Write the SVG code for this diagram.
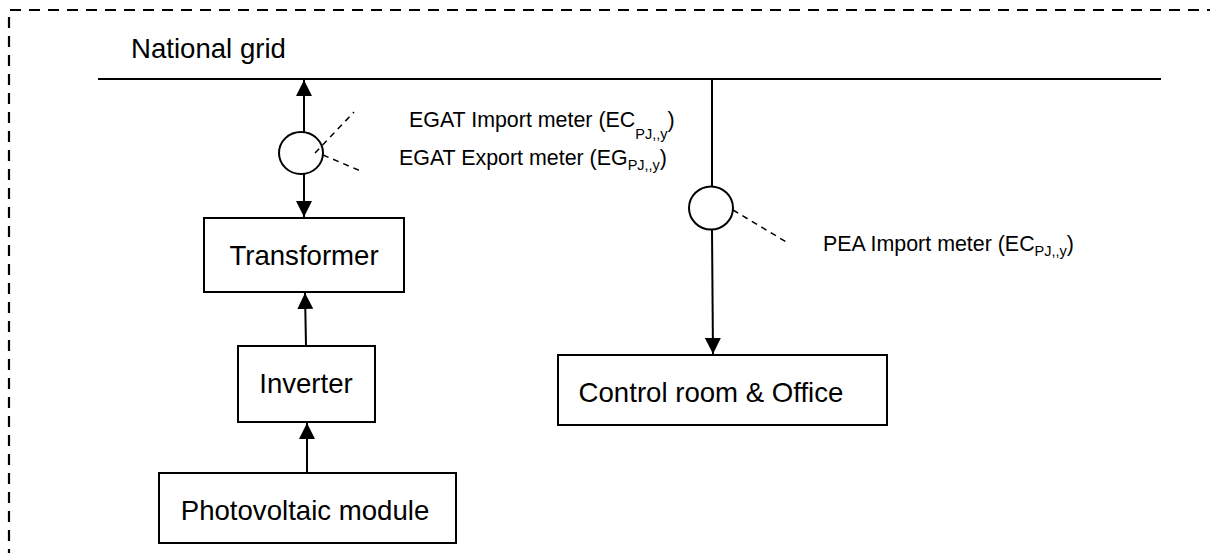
<svg xmlns="http://www.w3.org/2000/svg" width="1210" height="553" viewBox="0 0 1210 553">
<style>
.box{fill:#fff;stroke:#000;stroke-width:2}
.lbl{font-family:"Liberation Sans",Arial,sans-serif;font-size:27.6px;fill:#000}
.mlbl{font-family:"Liberation Sans",Arial,sans-serif;font-size:21.4px;fill:#000}
.sub{font-size:14.5px}
.wire{stroke:#000;stroke-width:2;fill:none}
.dash{stroke:#000;stroke-width:1.5;stroke-dasharray:6 5;fill:none}
.meter{fill:#fff;stroke:#000;stroke-width:2}
</style>
<defs>
<marker id="ah" markerUnits="userSpaceOnUse" viewBox="0 0 16 16" refX="16" refY="8" markerWidth="16" markerHeight="16" orient="auto">
<path d="M0,0 L16,8 L0,16 z" fill="#000"/>
</marker>
</defs>
<rect width="1210" height="553" fill="#fff"/>
<path d="M9,560 L9,10 L1215,10" fill="none" stroke="#000" stroke-width="2.2" stroke-dasharray="11 8"/>
<g id="grid">
<line x1="98" y1="79" x2="1161" y2="79" stroke="#000" stroke-width="2"/>
<text class="lbl" x="131" y="58">National grid</text>
</g>
<g id="egat-meter">
<ellipse class="meter" cx="301" cy="153" rx="22" ry="21"/>
<line class="dash" x1="315" y1="153" x2="354" y2="112"/>
<line class="dash" x1="323" y1="155" x2="363" y2="172"/>
<text class="mlbl" x="409" y="127">EGAT Import meter (EC<tspan class="sub" dy="12">PJ,,y</tspan><tspan dy="-12">)</tspan></text>
<text class="mlbl" x="399" y="165">EGAT Export meter (EG<tspan class="sub" dy="5">PJ,,y</tspan><tspan dy="-5">)</tspan></text>
</g>
<g id="pea-meter">
<ellipse class="meter" cx="711" cy="208" rx="22" ry="21.5"/>
<line class="dash" x1="733" y1="210" x2="788" y2="243"/>
<text class="mlbl" x="823" y="251">PEA Import meter (EC<tspan class="sub" dy="5">PJ,,y</tspan><tspan dy="-5">)</tspan></text>
</g>
<g id="transformer">
<rect class="box" x="204" y="218" width="200" height="74"/>
<text class="lbl" x="304" y="265" text-anchor="middle">Transformer</text>
</g>
<g id="inverter">
<rect class="box" x="238" y="346" width="137" height="76"/>
<text class="lbl" x="306" y="393" text-anchor="middle">Inverter</text>
</g>
<g id="pv">
<rect class="box" x="159" y="473" width="297" height="70"/>
<text class="lbl" x="305" y="520" text-anchor="middle">Photovoltaic module</text>
</g>
<g id="control">
<rect class="box" x="558" y="355" width="329" height="70"/>
<text class="lbl" x="711" y="402" text-anchor="middle">Control room &amp; Office</text>
</g>
<g id="connectors">
<line class="wire" x1="304" y1="132" x2="304" y2="80" marker-end="url(#ah)"/>
<line class="wire" x1="304" y1="174" x2="304" y2="217" marker-end="url(#ah)"/>
<line class="wire" x1="306" y1="346" x2="305" y2="293" marker-end="url(#ah)"/>
<line class="wire" x1="307" y1="473" x2="307" y2="423" marker-end="url(#ah)"/>
<line class="wire" x1="712" y1="79" x2="712" y2="187"/>
<line class="wire" x1="712" y1="230" x2="713" y2="354" marker-end="url(#ah)"/>
</g>
</svg>
